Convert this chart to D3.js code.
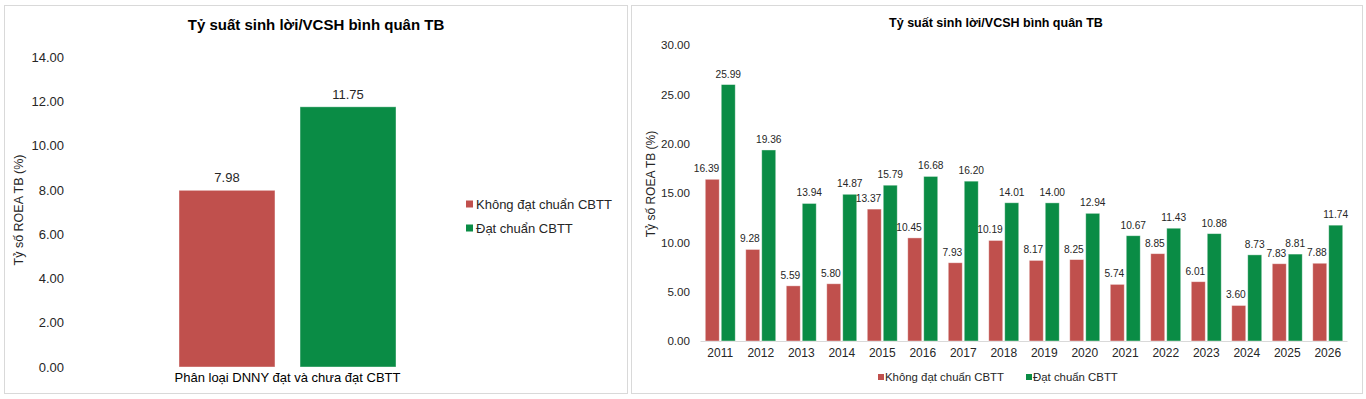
<!DOCTYPE html>
<html><head><meta charset="utf-8">
<script src="https://cdn.jsdelivr.net/npm/d3@7/dist/d3.min.js"></script>
<style>
html,body{margin:0;padding:0;background:#fff;}
svg{display:block;font-family:"Liberation Sans",Arial,sans-serif;}
</style></head><body>
<svg id="c" width="1366" height="399"></svg>
<script>
// ---- data ----
const title = "Tỷ suất sinh lời/VCSH bình quân TB";
const yTitle = "Tỷ số ROEA TB (%)";
const seriesNames = ["Không đạt chuẩn CBTT", "Đạt chuẩn CBTT"];
const seriesColors = ["#C0504D", "#0A8C45"];

const leftCategories = ["Phân loại DNNY đạt và chưa đạt CBTT"];
const leftKhong = [7.98];
const leftDat = [11.75];
const leftTicks = [0, 2, 4, 6, 8, 10, 12, 14];

const years = ["2011","2012","2013","2014","2015","2016","2017","2018","2019","2020","2021","2022","2023","2024","2025","2026"];
const rightKhong = [16.39, 9.28, 5.59, 5.80, 13.37, 10.45, 7.93, 10.19, 8.17, 8.25, 5.74, 8.85, 6.01, 3.60, 7.83, 7.88];
const rightDat = [25.99, 19.36, 13.94, 14.87, 15.79, 16.68, 16.20, 14.01, 14.00, 12.94, 10.67, 11.43, 10.88, 8.73, 8.81, 11.74];
const rightTicks = [0, 5, 10, 15, 20, 25, 30];

const svg = d3.select("#c");
const fmt = d3.format(".2f");

// panels
svg.append("rect").attr("x",4.5).attr("y",5.5).attr("width",623).attr("height",388)
  .attr("fill","#fff").attr("stroke","#D9D9D9");
svg.append("rect").attr("x",631.5).attr("y",5.5).attr("width",731).attr("height",388)
  .attr("fill","#fff").attr("stroke","#D9D9D9");

// ================= LEFT CHART =================
{
  const g = svg.append("g");
  const y = d3.scaleLinear().domain([0,14]).range([367,57]);
  const x0 = d3.scaleBand().domain(leftCategories).range([179,396]).padding(0);
  const x1 = d3.scaleBand().domain([0,1]).range([0,x0.bandwidth()]).paddingInner(0.207);
  const rows = leftCategories.map((c,i)=>({c, v:[leftKhong[i], leftDat[i]]}));

  g.append("text").attr("x",316).attr("y",30).attr("text-anchor","middle")
    .attr("font-size",15).attr("font-weight","bold").attr("fill","#000").text(title);

  const ya = d3.axisLeft(y).tickValues(leftTicks).tickFormat(fmt).tickSize(0).tickPadding(0);
  const yg = g.append("g").attr("transform","translate(64,0)").call(ya);
  yg.select(".domain").remove();
  yg.selectAll("text").attr("font-size",13).attr("fill","#262626").attr("font-family","Liberation Sans, Arial, sans-serif");

  g.append("text").attr("transform","translate(23,210) rotate(-90)").attr("text-anchor","middle")
    .attr("font-size",12.5).attr("fill","#262626").text(yTitle);

  rows.forEach(r=>{
    r.v.forEach((v,k)=>{
      const bx = x0(r.c)+x1(k);
      g.append("rect").attr("x",bx).attr("y",y(v)).attr("width",x1.bandwidth())
        .attr("height",y(0)-y(v)).attr("fill",seriesColors[k])
        .attr("stroke","#ffffff").attr("stroke-opacity",0.5).attr("stroke-width",0.8);
      g.append("text").attr("x",bx+x1.bandwidth()/2).attr("y",y(v)-8).attr("text-anchor","middle")
        .attr("font-size",13).attr("fill","#262626").text(fmt(v));
    });
    g.append("text").attr("x",x0(r.c)+x0.bandwidth()/2).attr("y",382).attr("text-anchor","middle")
      .attr("font-size",13).attr("fill","#000").text(r.c);
  });

  // legend
  seriesNames.forEach((n,k)=>{
    const ly = 204 + k*24;
    g.append("rect").attr("x",466).attr("y",ly-3.5).attr("width",7).attr("height",7).attr("fill",seriesColors[k]);
    g.append("text").attr("x",476).attr("y",ly+4.5).attr("font-size",13).attr("fill","#262626").text(n);
  });
}

// ================= RIGHT CHART =================
{
  const g = svg.append("g");
  const y = d3.scaleLinear().domain([0,30]).range([341,45]);
  const x0 = d3.scaleBand().domain(years).range([700,1348]).paddingInner(0.26).paddingOuter(0.13);
  const x1 = d3.scaleBand().domain([0,1]).range([0,x0.bandwidth()]).paddingInner(0.125);

  g.append("text").attr("x",996).attr("y",27).attr("text-anchor","middle")
    .attr("font-size",12.5).attr("font-weight","bold").attr("fill","#000").text(title);

  const ya = d3.axisLeft(y).tickValues(rightTicks).tickFormat(fmt).tickSize(0).tickPadding(0);
  const yg = g.append("g").attr("transform","translate(690,0)").call(ya);
  yg.select(".domain").remove();
  yg.selectAll("text").attr("font-size",11.6).attr("fill","#262626").attr("font-family","Liberation Sans, Arial, sans-serif");

  g.append("text").attr("transform","translate(655,184) rotate(-90)").attr("text-anchor","middle")
    .attr("font-size",12).attr("fill","#262626").text(yTitle);

  const xa = d3.axisBottom(x0).tickSize(0).tickPadding(0);
  const xg = g.append("g").attr("transform","translate(0,341)").call(xa);
  xg.select(".domain").attr("stroke","#D9D9D9").attr("d","M700.5,0.5H1347.5");
  xg.selectAll("text").attr("font-size",12).attr("fill","#262626").attr("dy","1.35em")
    .attr("font-family","Liberation Sans, Arial, sans-serif");

  years.forEach((yr,i)=>{
    [rightKhong[i], rightDat[i]].forEach((v,k)=>{
      const bx = x0(yr)+x1(k);
      g.append("rect").attr("x",bx).attr("y",y(v)).attr("width",x1.bandwidth())
        .attr("height",y(0)-y(v)).attr("fill",seriesColors[k])
        .attr("stroke","#ffffff").attr("stroke-opacity",0.5).attr("stroke-width",0.8);
      // first series labels are right-aligned to the bar's right edge, second centred
      const lx = k === 0 ? bx + x1.bandwidth() : bx + x1.bandwidth()/2;
      g.append("text").attr("x",lx).attr("y",y(v)-7)
        .attr("text-anchor", k === 0 ? "end" : "middle")
        .attr("font-size",10.2).attr("fill","#262626").text(fmt(v));
    });
  });

  // legend
  const lx = [878, 1026];
  seriesNames.forEach((n,k)=>{
    g.append("rect").attr("x",lx[k]).attr("y",374).attr("width",6).attr("height",6).attr("fill",seriesColors[k]);
    g.append("text").attr("x",lx[k]+7).attr("y",381).attr("font-size",11.4).attr("fill","#262626").text(n);
  });
}
</script>
</body></html>
